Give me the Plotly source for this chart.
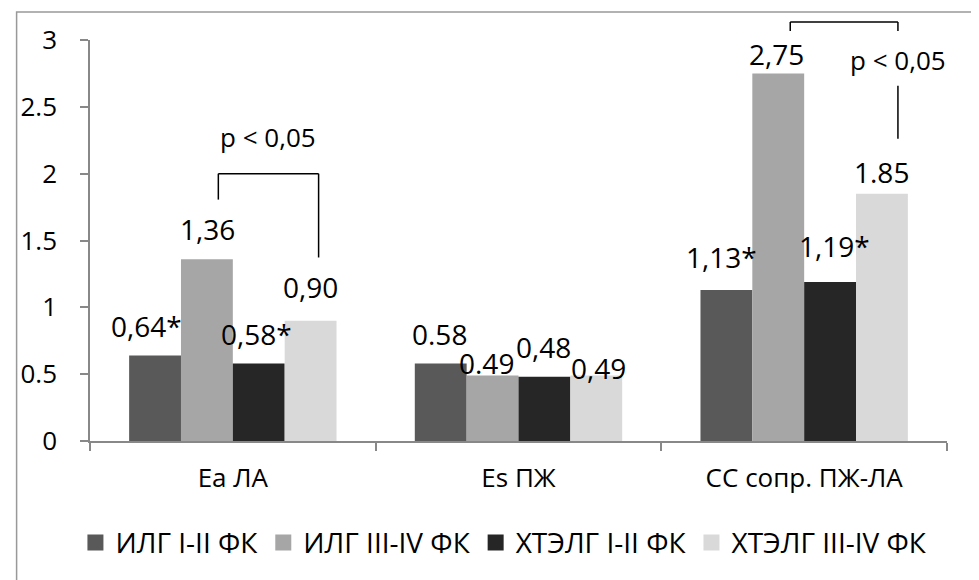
import plotly.graph_objects as go

categories = ["Ea ЛА", "Es ПЖ", "СС сопр. ПЖ-ЛА"]
series_names = ["ИЛГ I-II ФК", "ИЛГ III-IV ФК", "ХТЭЛГ I-II ФК", "ХТЭЛГ III-IV ФК"]
ilg_12 = [0.64, 0.58, 1.13]
ilg_34 = [1.36, 0.49, 2.75]
htelg_12 = [0.58, 0.48, 1.19]
htelg_34 = [0.90, 0.49, 1.85]
labels_ilg_12 = ["0,64*", "0.58", "1,13*"]
labels_ilg_34 = ["1,36", "0.49", "2,75"]
labels_htelg_12 = ["0,58*", "0,48", "1,19*"]
labels_htelg_34 = ["0,90", "0,49", "1.85"]
p_text = "p < 0,05"
y_ticks = [0, 0.5, 1, 1.5, 2, 2.5, 3]
y_tick_text = ["0", "0.5", "1", "1.5", "2", "2.5", "3"]

values = [ilg_12, ilg_34, htelg_12, htelg_34]
labels = [labels_ilg_12, labels_ilg_34, labels_htelg_12, labels_htelg_34]
colors = ["#595959", "#a6a6a6", "#262626", "#d9d9d9"]

# label pixel shifts (style): [series][category] -> (dx, dy)
label_shift = [
    [(-9, 29), (-1, 29), (-5, 33)],
    [(1, 30), (-6, 13), (-2, 19)],
    [(-2, 29), (-1, 30), (4, 36)],
    [(0, 34), (2, 8), (0, 22)],
]

FONT = "Open Sans"
FS_TICK = 26
FS_LABEL = 28
FS_LEG = 28
bargap = 0.274
bw = (1 - bargap) / 4

def bar_x(cat, i):
    return cat + (i - 1.5) * bw

def px(x):  # category-axis coordinate to paper
    return (x + 0.5) / 3

def py(v):
    return v / 3

fig = go.Figure()
for i in range(4):
    fig.add_trace(go.Bar(
        x=categories, y=values[i], name=series_names[i],
        marker=dict(color=colors[i], line=dict(width=0)),
        showlegend=False, hoverinfo="skip",
    ))
    fig.add_trace(go.Scatter(
        x=[None], y=[None], mode="markers", name=series_names[i],
        marker=dict(symbol="square", size=16, color=colors[i]),
        showlegend=True,
    ))

annotations = []
for i in range(4):
    for c in range(3):
        dx, dy = label_shift[i][c]
        annotations.append(dict(
            x=bar_x(c, i), y=values[i][c], xref="x", yref="y",
            text=labels[i][c], showarrow=False, xshift=dx, yshift=dy,
            xanchor="center", yanchor="middle",
            font=dict(family=FONT, size=FS_LABEL, color="#000"),
        ))

shapes = []
line = dict(color="#000", width=1.5)
# bracket 1 (Ea): between ILG III-IV and HTELG III-IV
l1 = bar_x(0, 1) + 0.04
r1 = bar_x(0, 3) + 0.028
shapes += [
    dict(type="line", xref="paper", yref="paper", x0=px(l1), x1=px(r1), y0=py(2.0), y1=py(2.0), line=line),
    dict(type="line", xref="paper", yref="paper", x0=px(l1), x1=px(l1), y0=py(2.0), y1=py(1.806), line=line),
    dict(type="line", xref="paper", yref="paper", x0=px(r1), x1=px(r1), y0=py(2.0), y1=py(1.373), line=line),
]
annotations.append(dict(x=px((l1 + r1) / 2), y=py(2.276), xref="paper", yref="paper",
                        xanchor="center", yanchor="middle",
                        text=p_text, showarrow=False, font=dict(family=FONT, size=FS_TICK, color="#000")))
# bracket 2 (CC)
l2 = bar_x(2, 1) + 0.042
r2 = bar_x(2, 3) + 0.056
shapes += [
    dict(type="line", xref="paper", yref="paper", x0=px(l2), x1=px(r2), y0=py(3.134), y1=py(3.134), line=line),
    dict(type="line", xref="paper", yref="paper", x0=px(l2), x1=px(l2), y0=py(3.134), y1=py(3.067), line=line),
    dict(type="line", xref="paper", yref="paper", x0=px(r2), x1=px(r2), y0=py(3.134), y1=py(3.067), line=line),
    dict(type="line", xref="paper", yref="paper", x0=px(r2), x1=px(r2), y0=py(2.657), y1=py(2.261), line=line),
]
annotations.append(dict(x=px(r2), y=py(2.85), xref="paper", yref="paper",
                        xanchor="center", yanchor="middle",
                        text=p_text, showarrow=False, font=dict(family=FONT, size=FS_TICK, color="#000")))

# outer chart frame
shapes.append(dict(type="rect", xref="paper", yref="paper",
                   x0=(9 - 83) / 864, x1=(990 - 83) / 864,
                   y0=(442 - 600) / 402, y1=(442 - 12) / 402,
                   line=dict(color="#999999", width=1.5), layer="below"))

# page body has an 8px margin, so the figure is 8px smaller and margins 8px less
fig.update_layout(
    width=971, height=572,
    margin=dict(l=75, r=32, t=32, b=138),
    paper_bgcolor="white", plot_bgcolor="white",
    barmode="group", bargap=bargap, bargroupgap=0,
    font=dict(family=FONT, size=FS_TICK, color="#000"),
    showlegend=True,
    legend=dict(orientation="h", x=0.483, xanchor="center", y=-0.254, yanchor="middle",
                font=dict(family=FONT, size=FS_LEG, color="#000"), itemwidth=30,
                traceorder="normal", bgcolor="rgba(0,0,0,0)"),
    annotations=annotations, shapes=shapes,
)
fig.update_xaxes(
    type="category", range=[-0.5, 2.5], showline=True, linecolor="#888888", linewidth=1.5,
    ticks="outside", tickson="boundaries", ticklen=8, tickcolor="#888888", tickwidth=1.5,
    showgrid=False, zeroline=False, ticklabelstandoff=13,
    tickfont=dict(family=FONT, size=FS_TICK, color="#000"),
)
fig.update_yaxes(
    range=[0, 3], tickvals=y_ticks, ticktext=y_tick_text, showline=True, linecolor="#888888",
    linewidth=1.5, ticks="outside", ticklen=8, tickcolor="#888888", tickwidth=1.5,
    showgrid=False, zeroline=False, ticklabelstandoff=18,
    tickfont=dict(family=FONT, size=FS_TICK, color="#000"),
)

fig.write_html("out.html")
